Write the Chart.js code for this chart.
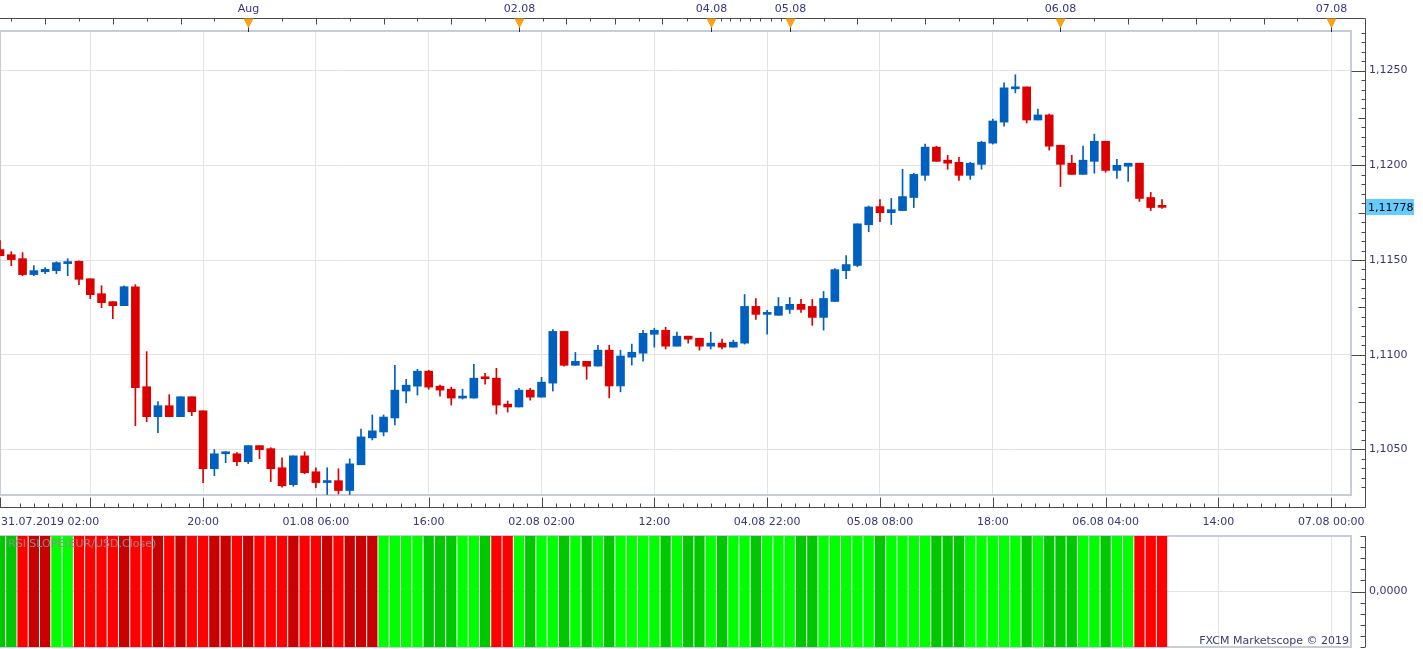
<!DOCTYPE html>
<html>
<head>
<meta charset="utf-8">
<script src="https://cdn.jsdelivr.net/npm/chart.js@4.4.0/dist/chart.umd.min.js"></script>
<style>
  html, body { margin: 0; padding: 0; background: #fff; overflow: hidden; }
  #wrap { position: relative; width: 1423px; height: 649px; }
  #main { position: absolute; left: 0; top: 0; }
  #sub { position: absolute; left: 0; top: 535px; }
</style>
</head>
<body>
<div id="wrap">
  <canvas id="main" width="1423" height="535"></canvas>
  <canvas id="sub" width="1423" height="114"></canvas>
</div>
<script>
// EUR/USD hourly candles, 31.07.2019 02:00 .. 06.08.2019 09:00
const opens = [
  1.11555, 1.11528, 1.11507, 1.11423, 1.11438, 1.11444, 1.11481, 1.11493, 1.11401, 1.11322,
  1.11280, 1.11259, 1.11359, 1.10831, 1.10673, 1.10731, 1.10673, 1.10778, 1.10704, 1.10398,
  1.10477, 1.10477, 1.10435, 1.10520, 1.10504, 1.10403, 1.10314, 1.10466, 1.10382, 1.10325,
  1.10335, 1.10283, 1.10419, 1.10561, 1.10592, 1.10666, 1.10808, 1.10834, 1.10913, 1.10834,
  1.10818, 1.10771, 1.10771, 1.10878, 1.10876, 1.10739, 1.10724, 1.10813, 1.10776, 1.10850,
  1.11123, 1.10944, 1.10965, 1.10940, 1.11024, 1.10835, 1.10987, 1.11008, 1.11108, 1.11129,
  1.11045, 1.11098, 1.11087, 1.11045, 1.11061, 1.11040, 1.11061, 1.11255, 1.11213, 1.11208,
  1.11239, 1.11266, 1.11255, 1.11197, 1.11281, 1.11444, 1.11471, 1.11686, 1.11782, 1.11750,
  1.11761, 1.11830, 1.11947, 1.12096, 1.12027, 1.12016, 1.11947, 1.12005, 1.12117, 1.12228,
  1.12404, 1.12414, 1.12239, 1.12266, 1.12106, 1.12011, 1.11952, 1.12021, 1.12127, 1.11973,
  1.11995, 1.12011, 1.11830, 1.11782
];
const highs = [
  1.11602, 1.11544, 1.11539, 1.11470, 1.11460, 1.11491, 1.11507, 1.11496, 1.11401, 1.11364,
  1.11280, 1.11364, 1.11370, 1.11016, 1.10752, 1.10789, 1.10778, 1.10778, 1.10704, 1.10499,
  1.10488, 1.10483, 1.10520, 1.10520, 1.10509, 1.10456, 1.10466, 1.10487, 1.10403, 1.10403,
  1.10398, 1.10450, 1.10608, 1.10682, 1.10682, 1.10944, 1.10870, 1.10923, 1.10918, 1.10839,
  1.10829, 1.10818, 1.10949, 1.10902, 1.10928, 1.10755, 1.10823, 1.10823, 1.10881, 1.11133,
  1.11123, 1.11012, 1.10965, 1.11050, 1.11050, 1.11024, 1.11056, 1.11129, 1.11140, 1.11145,
  1.11119, 1.11098, 1.11087, 1.11119, 1.11082, 1.11077, 1.11318, 1.11297, 1.11234, 1.11302,
  1.11302, 1.11292, 1.11292, 1.11334, 1.11455, 1.11523, 1.11691, 1.11785, 1.11819, 1.11825,
  1.11979, 1.11958, 1.12112, 1.12101, 1.12053, 1.12042, 1.12016, 1.12127, 1.12244, 1.12435,
  1.12478, 1.12414, 1.12297, 1.12271, 1.12106, 1.12053, 1.12101, 1.12165, 1.12127, 1.12032,
  1.12011, 1.12011, 1.11857, 1.11819
];
const lows = [
  1.11523, 1.11470, 1.11417, 1.11417, 1.11428, 1.11428, 1.11417, 1.11370, 1.11296, 1.11248,
  1.11190, 1.11259, 1.10625, 1.10646, 1.10588, 1.10673, 1.10673, 1.10678, 1.10324, 1.10361,
  1.10430, 1.10414, 1.10425, 1.10451, 1.10330, 1.10300, 1.10305, 1.10372, 1.10298, 1.10262,
  1.10265, 1.10262, 1.10419, 1.10550, 1.10571, 1.10629, 1.10745, 1.10787, 1.10818, 1.10781,
  1.10734, 1.10766, 1.10771, 1.10844, 1.10687, 1.10697, 1.10724, 1.10760, 1.10776, 1.10808,
  1.10939, 1.10944, 1.10870, 1.10940, 1.10772, 1.10804, 1.10945, 1.10966, 1.11040, 1.11030,
  1.11045, 1.11061, 1.11024, 1.11030, 1.11030, 1.11040, 1.11056, 1.11186, 1.11108, 1.11208,
  1.11218, 1.11223, 1.11155, 1.11130, 1.11281, 1.11402, 1.11465, 1.11649, 1.11703, 1.11687,
  1.11761, 1.11777, 1.11920, 1.12021, 1.11979, 1.11920, 1.11926, 1.11979, 1.12112, 1.12207,
  1.12382, 1.12223, 1.12239, 1.12080, 1.11888, 1.11952, 1.11952, 1.11958, 1.11963, 1.11931,
  1.11915, 1.11809, 1.11761, 1.11772
];
const closes = [
  1.11523, 1.11502, 1.11423, 1.11444, 1.11451, 1.11486, 1.11491, 1.11398, 1.11317, 1.11275,
  1.11259, 1.11359, 1.10826, 1.10673, 1.10731, 1.10673, 1.10778, 1.10699, 1.10398, 1.10477,
  1.10480, 1.10435, 1.10520, 1.10499, 1.10398, 1.10308, 1.10466, 1.10377, 1.10325, 1.10335,
  1.10283, 1.10424, 1.10566, 1.10598, 1.10671, 1.10813, 1.10839, 1.10913, 1.10829, 1.10813,
  1.10771, 1.10776, 1.10876, 1.10873, 1.10734, 1.10724, 1.10813, 1.10776, 1.10855, 1.11123,
  1.10944, 1.10965, 1.10939, 1.11024, 1.10835, 1.10993, 1.11013, 1.11113, 1.11129, 1.11045,
  1.11098, 1.11082, 1.11045, 1.11061, 1.11040, 1.11066, 1.11255, 1.11213, 1.11223, 1.11255,
  1.11266, 1.11239, 1.11197, 1.11297, 1.11449, 1.11476, 1.11691, 1.11780, 1.11750, 1.11766,
  1.11835, 1.11952, 1.12096, 1.12021, 1.12011, 1.11947, 1.12011, 1.12122, 1.12234, 1.12409,
  1.12414, 1.12239, 1.12266, 1.12101, 1.12005, 1.11952, 1.12027, 1.12127, 1.11973, 1.12000,
  1.12011, 1.11825, 1.11777, 1.11778
];
// RSI slope histogram: G bright green, g dark green, R bright red, r dark red
const slopeShade = ('ggRrrGGRRR' + 'RrRRrRrRRr' + 'rRrRRRrRRr' + 'RrrrGGGGgg' + 'gGGgRRGgGG' +
  'gGgGgGGGGg' + 'GggGgGGgGG' + 'GggGGGGGgG' + 'GGGgggGGGG' + 'GgGgggGGgG' + 'GRRR').split('');

const lastPrice = 1.11778;
const xAxisMax = 119.75;
const gridIdx = [8, 18, 28, 38, 48, 58, 68, 78, 88, 98, 108, 118];
const timeTickIdx = [0, 18, 28, 38, 48, 58, 68, 78, 88, 98, 108, 118];
const timeTickLabels = ['31.07.2019 02:00', '20:00', '01.08 06:00', '16:00', '02.08 02:00', '12:00',
  '04.08 22:00', '05.08 08:00', '18:00', '06.08 04:00', '14:00', '07.08 00:00'];
const dayMarkIdx = [22, 46, 63, 70, 94, 118];
const dayMarkLabels = ['Aug', '02.08', '04.08', '05.08', '06.08', '07.08'];
// top ruler ticks: [index, tall]
const topTicks = [[1,0],[4,1],[7,0],[10,1],[13,0],[16,1],[19,0],[25,0],[28,1],[31,0],[34,1],[37,0],[40,1],[43,0],
  [48.1,0],[50.2,1],[52.3,0],[54.5,1],[56.6,0],[58.7,1],[60.9,0],
  [63.9,0],[64.7,0],[65.6,0],[66.5,0],[67.4,0],[68.3,0],[69.2,0],
  [73,0],[76,1],[79,0],[82,1],[85,0],[88,1],[91,0],[97,0],[100,1],[103,0],[106,1],[109,0],[112,1],[115,0]];
const priceGrid = [1.105, 1.110, 1.115, 1.120, 1.125];
const yMin = 1.102593, yMax = 1.127091;

const RED = '#dc0000', BLUE = '#0060c0', GRID = '#e3e3e3';
const TXT = '#36367c', AX = '#4a4a4a', FRAME = '#c6ccd9';
const FONT = '11px "DejaVu Sans", Verdana, sans-serif';
const shadeCol = { G: '#00ff00', g: '#00c800', R: '#ff0000', r: '#c80000' };

const idx = closes.map((c, i) => i);
const candleCol = idx.map(i => closes[i] >= opens[i] ? BLUE : RED);

function seg(ctx, x1, y1, x2, y2) {
  ctx.beginPath(); ctx.moveTo(x1, y1); ctx.lineTo(x2, y2); ctx.stroke();
}
const fmt = (v, d) => v.toFixed(d).replace('.', ',');

const mainDeco = {
  id: 'mainDeco',
  beforeDatasetsDraw(chart) {
    const { ctx, chartArea: a } = chart;
    ctx.save();
    ctx.strokeStyle = FRAME; ctx.lineWidth = 2;
    ctx.strokeRect(a.left, a.top, a.right - a.left, a.bottom - a.top);
    ctx.restore();
  },
  afterDraw(chart) {
    const { ctx } = chart;
    const xs = chart.scales.x, ys = chart.scales.y;
    const axR = 1365.5, axT = 18.5, axB = 507.5;
    ctx.save();
    ctx.strokeStyle = AX; ctx.lineWidth = 1;
    ctx.beginPath();
    ctx.moveTo(0, axT); ctx.lineTo(axR, axT); ctx.lineTo(axR, axB); ctx.lineTo(0, axB);
    ctx.stroke();

    // top ruler
    topTicks.forEach(([v, tall]) => {
      const p = Math.round(xs.getPixelForValue(v)) + 0.5;
      seg(ctx, p, axT, p, axT + (tall ? 6 : 3));
    });
    ctx.font = FONT; ctx.textAlign = 'center'; ctx.textBaseline = 'middle';
    dayMarkIdx.forEach((v, k) => {
      const p = Math.round(xs.getPixelForValue(v)) + 0.5;
      ctx.fillStyle = '#f6a21d';
      ctx.beginPath();
      ctx.moveTo(p - 5, axT); ctx.lineTo(p + 5, axT); ctx.lineTo(p, axT + 10); ctx.closePath();
      ctx.fill();
      ctx.strokeStyle = '#333'; seg(ctx, p, axT + 9, p, 32);
      ctx.fillStyle = TXT;
      ctx.fillText(dayMarkLabels[k], p, 9);
    });

    // bottom ruler
    ctx.strokeStyle = AX;
    seg(ctx, 0.5, axB, 0.5, axB - 10);
    for (let v = gridIdx[0] - 1.25 * 5; v <= xAxisMax; v += 1.25) {
      const p = Math.round(xs.getPixelForValue(v)) + 0.5;
      const major = gridIdx.some(g => Math.abs(g - v) < 0.01);
      seg(ctx, p, axB, p, axB - (major ? 10 : 4));
    }
    ctx.fillStyle = TXT;
    timeTickIdx.forEach((v, k) => {
      const p = xs.getPixelForValue(v);
      ctx.textAlign = k === 0 ? 'left' : 'center';
      ctx.fillText(timeTickLabels[k], k === 0 ? 1 : p, 522);
    });

    // price ruler
    for (let s = 1030; s <= 1270; s += 5) {
      const v = 1 + s / 10000;
      const y = Math.round(ys.getPixelForValue(v)) + 0.5;
      const len = s % 50 === 0 ? 14 : (s % 25 === 0 ? 7 : 4);
      seg(ctx, axR - len, y, axR, y);
    }
    ctx.textAlign = 'left';
    priceGrid.forEach(v => {
      ctx.fillText(fmt(v, 4), 1369, ys.getPixelForValue(v));
    });
    const ly = ys.getPixelForValue(lastPrice);
    ctx.fillStyle = '#66ccff';
    ctx.fillRect(1366, Math.round(ly) - 8, 48, 16);
    ctx.fillStyle = '#000';
    ctx.fillText(fmt(lastPrice, 5), 1368, ly + 0.5);
    ctx.restore();
  }
};

new Chart(document.getElementById('main'), {
  type: 'bar',
  data: {
    datasets: [
      { data: idx.map(i => ({ x: i, y: [lows[i], highs[i]] })), backgroundColor: candleCol,
        barThickness: 1, grouped: false, order: 2 },
      { data: idx.map(i => ({ x: i, y: [opens[i], closes[i]] })), backgroundColor: candleCol,
        barThickness: 8, minBarLength: 2, grouped: false, order: 1 }
    ]
  },
  options: {
    responsive: false, animation: false, devicePixelRatio: 1,
    layout: { padding: 0 },
    plugins: { legend: { display: false }, tooltip: { enabled: false } },
    scales: {
      x: {
        type: 'linear', position: 'bottom', min: 0, max: xAxisMax, offset: false,
        afterBuildTicks: s => { s.ticks = gridIdx.map(v => ({ value: v })); },
        afterFit: s => { s.height = 40; },
        ticks: { display: false },
        grid: { color: GRID, drawTicks: false, offset: false },
        border: { display: false }
      },
      xTop: {
        type: 'linear', position: 'top', min: 0, max: xAxisMax, offset: false,
        afterFit: s => { s.height = 31; },
        ticks: { display: false }, grid: { display: false }, border: { display: false }
      },
      y: {
        position: 'right', min: yMin, max: yMax,
        afterBuildTicks: s => { s.ticks = priceGrid.map(v => ({ value: v })); },
        afterFit: s => { s.width = 72; },
        ticks: { display: false },
        grid: { color: GRID, drawTicks: false },
        border: { display: false }
      }
    }
  },
  plugins: [mainDeco]
});

const subDeco = {
  id: 'subDeco',
  beforeDatasetsDraw(chart) {
    const { ctx, chartArea: a } = chart;
    ctx.save();
    ctx.strokeStyle = FRAME; ctx.lineWidth = 2;
    ctx.strokeRect(a.left, a.top, a.right - a.left, a.bottom - a.top);
    ctx.restore();
  },
  afterDraw(chart) {
    const { ctx, chartArea: a } = chart;
    const ys = chart.scales.y;
    const axR = 1365.5;
    ctx.save();
    ctx.strokeStyle = AX; ctx.lineWidth = 1;
    seg(ctx, axR, a.top, axR, a.bottom);
    for (let k = -5; k <= 5; k++) {
      const y = Math.round(ys.getPixelForValue(k / 5)) + 0.5;
      seg(ctx, axR - (k === 0 ? 14 : 5), y, axR, y);
    }
    ctx.font = FONT; ctx.textBaseline = 'middle';
    ctx.fillStyle = TXT; ctx.textAlign = 'left';
    ctx.fillText(fmt(0, 4), 1369, ys.getPixelForValue(0));
    ctx.fillStyle = '#8c8c8c';
    ctx.fillText('RSI SLOPE(EUR/USD.Close)', 8, a.top + 8);
    ctx.fillStyle = '#3a3a70'; ctx.textAlign = 'right';
    ctx.fillText('FXCM Marketscope \u00A9 2019', a.right - 2, a.bottom - 6);
    ctx.restore();
  }
};

new Chart(document.getElementById('sub'), {
  type: 'bar',
  data: {
    datasets: [
      { data: idx.map(i => ({ x: i, y: [-1, 1] })), backgroundColor: slopeShade.map(c => shadeCol[c]),
        barPercentage: 0.91, categoryPercentage: 1, grouped: false }
    ]
  },
  options: {
    responsive: false, animation: false, devicePixelRatio: 1,
    layout: { padding: { top: 1, bottom: 2, left: 0, right: 0 } },
    plugins: { legend: { display: false }, tooltip: { enabled: false } },
    scales: {
      x: {
        type: 'linear', position: 'bottom', min: 0, max: xAxisMax, offset: false,
        afterBuildTicks: s => { s.ticks = gridIdx.map(v => ({ value: v })); },
        afterFit: s => { s.height = 0; },
        ticks: { display: false },
        grid: { color: GRID, drawTicks: false, offset: false },
        border: { display: false }
      },
      y: {
        position: 'right', min: -1, max: 1,
        afterBuildTicks: s => { s.ticks = [{ value: 0 }]; },
        afterFit: s => { s.width = 72; },
        ticks: { display: false },
        grid: { color: GRID, drawTicks: false },
        border: { display: false }
      }
    }
  },
  plugins: [subDeco]
});
</script>
</body>
</html>
